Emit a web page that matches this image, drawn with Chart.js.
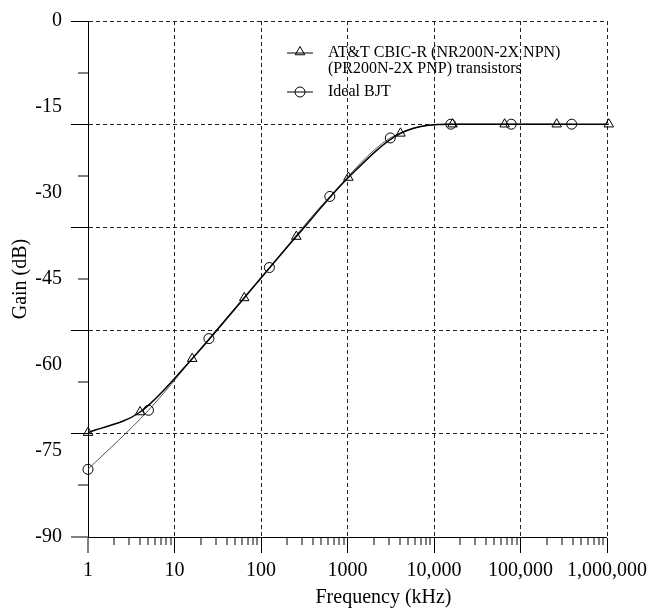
<!doctype html>
<html lang="en">
<head>
<meta charset="utf-8">
<title>Gain vs Frequency</title>
<script src="https://cdn.jsdelivr.net/npm/chart.js"></script>
<style>
  html, body { margin: 0; padding: 0; background: #fff; }
  .wrap { position: relative; width: 653px; height: 616px; }
</style>
</head>
<body>
<div class="wrap"><canvas id="chart"></canvas></div>
<script>
// AT&T CBIC-R transistors (triangles)
const attFreq = [1, 4, 16, 64, 256, 1024, 4096, 16384, 65536, 262144, 1048576];
const attGain = [-71.8, -68.2, -58.9, -48.3, -37.6, -27.3, -19.6, -18.0, -18.0, -18.0, -18.0];

// Ideal BJT (circles)
const bjtFreq = [1, 5, 25, 125, 625, 3125, 15625, 78125, 390625];
const bjtGain = [-78.2, -67.9, -55.4, -43.0, -30.6, -20.4, -18.0, -18.0, -18.0];

// axes
const xDecades = [1, 10, 100, 1000, 10000, 100000, 1000000];
const xTickLabels = ['1', '10', '100', '1000', '10,000', '100,000', '1,000,000'];
const yTickLabels = [0, -15, -30, -45, -60, -75, -90];
const yMarkStep = 9;     // small tick marks
const yGridStep = 18;    // dashed grid lines

const attLegend = ['AT&T CBIC-R (NR200N-2X NPN)', '(PR200N-2X PNP) transistors'];
const bjtLegend = 'Ideal BJT';

// every tick value on the axes
const xTickValues = [];
xDecades.forEach((d, i) => {
  if (i === xDecades.length - 1) { xTickValues.push(d); return; }
  for (let m = 1; m <= 9; m++) xTickValues.push(d * m);
});
const yTickValues = [...yTickLabels];
for (let v = 0; v >= -90; v -= yMarkStep) if (!yTickValues.includes(v)) yTickValues.push(v);
yTickValues.sort((a, b) => a - b);

const isDecade = v => xDecades.includes(v);

Chart.defaults.font.family = '"Liberation Serif", "Times New Roman", serif';
Chart.defaults.color = '#000';

function marker(ctx, style, x, y, r) {
  ctx.beginPath();
  if (style === 'triangle') {
    ctx.moveTo(x, y - r);
    ctx.lineTo(x + r * Math.sin(2 * Math.PI / 3), y - r * Math.cos(2 * Math.PI / 3));
    ctx.lineTo(x + r * Math.sin(4 * Math.PI / 3), y - r * Math.cos(4 * Math.PI / 3));
    ctx.closePath();
  } else {
    ctx.arc(x, y, r, 0, Math.PI * 2);
  }
  ctx.stroke();
}

const extras = {
  id: 'extras',
  afterDraw(chart) {
    const { ctx, chartArea: a } = chart;
    ctx.save();
    ctx.fillStyle = '#000';
    ctx.strokeStyle = '#000';
    ctx.lineWidth = 1;
    // x axis title
    ctx.font = '20px "Liberation Serif"';
    ctx.textAlign = 'center';
    ctx.textBaseline = 'middle';
    ctx.fillText('Frequency (kHz)', (a.left + a.right) / 2 + 36, 598);

    // legend
    const lx = a.left + 199, tx = a.left + 240;
    ctx.font = '16px "Liberation Serif"';
    ctx.textAlign = 'left';
    const rows = [
      { y: a.top + 32, style: 'triangle', r: 5.5, lines: attLegend },
      { y: a.top + 71, style: 'circle', r: 5, lines: [bjtLegend] }
    ];
    rows.forEach(row => {
      ctx.beginPath();
      ctx.moveTo(lx, row.y);
      ctx.lineTo(lx + 26, row.y);
      ctx.stroke();
      marker(ctx, row.style, lx + 13, row.y + (row.style === 'triangle' ? -1 : 0), row.r);
      row.lines.forEach((t, i) => ctx.fillText(t, tx, row.y + i * 16));
    });
    ctx.restore();
  }
};

new Chart(document.getElementById('chart'), {
  type: 'line',
  data: {
    datasets: [{
      label: attLegend.join(' '),
      data: attFreq.map((f, i) => ({ x: f, y: attGain[i] })),
      borderColor: '#000',
      borderWidth: 1.5,
      pointStyle: 'triangle',
      pointRadius: 5.5,
      pointBorderColor: '#000',
      pointBackgroundColor: 'rgba(0,0,0,0)',
      pointBorderWidth: 1,
      cubicInterpolationMode: 'monotone',
      clip: false
    }, {
      label: bjtLegend,
      data: bjtFreq.map((f, i) => ({ x: f, y: bjtGain[i] })),
      borderColor: '#555',
      borderWidth: 1,
      pointStyle: 'circle',
      pointRadius: 5,
      pointBorderColor: '#000',
      pointBackgroundColor: 'rgba(0,0,0,0)',
      pointBorderWidth: 1,
      cubicInterpolationMode: 'monotone',
      clip: false
    }]
  },
  options: {
    responsive: true,
    maintainAspectRatio: false,
    animation: false,
    layout: { padding: { top: 15, right: 46, left: 0, bottom: 0 } },
    plugins: { legend: { display: false }, tooltip: { enabled: false } },
    scales: {
      x: {
        type: 'logarithmic',
        min: 1,
        max: 1000000,
        afterBuildTicks: s => { s.ticks = xTickValues.map(v => ({ value: v })); },
        afterFit: s => { s.height = 79; },
        ticks: {
          autoSkip: false,
          maxRotation: 0,
          padding: 6,
          color: '#000',
          font: { size: 20 },
          callback: v => isDecade(v) ? xTickLabels[xDecades.indexOf(v)] : ''
        },
        grid: {
          color: '#222',
          lineWidth: c => (c.tick && isDecade(c.tick.value) && c.tick.value > 1) ? 1 : 0,
          tickLength: 16,
          tickColor: '#000',
          tickWidth: 1,
          tickBorderDash: c => (c.tick && isDecade(c.tick.value)) ? [] : [7, 100]
        },
        border: { display: true, color: '#000', width: 1, dash: [4, 3] }
      },
      y: {
        type: 'linear',
        min: -90,
        max: 0,
        afterBuildTicks: s => { s.ticks = yTickValues.map(v => ({ value: v })); },
        afterFit: s => { s.width = 88; },
        ticks: {
          autoSkip: false,
          padding: 9,
          color: '#000',
          font: { size: 20 },
          callback: v => yTickLabels.includes(v) ? String(v) : ''
        },
        grid: {
          color: '#222',
          lineWidth: c => (c.tick && c.tick.value % yGridStep === 0 && c.tick.value > -90) ? 1 : 0,
          tickLength: 17,
          tickColor: '#000',
          tickWidth: c => (c.tick && c.tick.value % yMarkStep === 0) ? 1 : 0,
          tickBorderDash: c => (c.tick && c.tick.value % yGridStep === 0) ? [] : [0, 7, 10, 100]
        },
        border: { display: true, color: '#000', width: 1, dash: [4, 3] },
        title: {
          display: true,
          text: 'Gain (dB)',
          color: '#000',
          font: { size: 20 },
          padding: { top: 9, bottom: 0 }
        }
      }
    }
  },
  plugins: [extras]
});
</script>
</body>
</html>
